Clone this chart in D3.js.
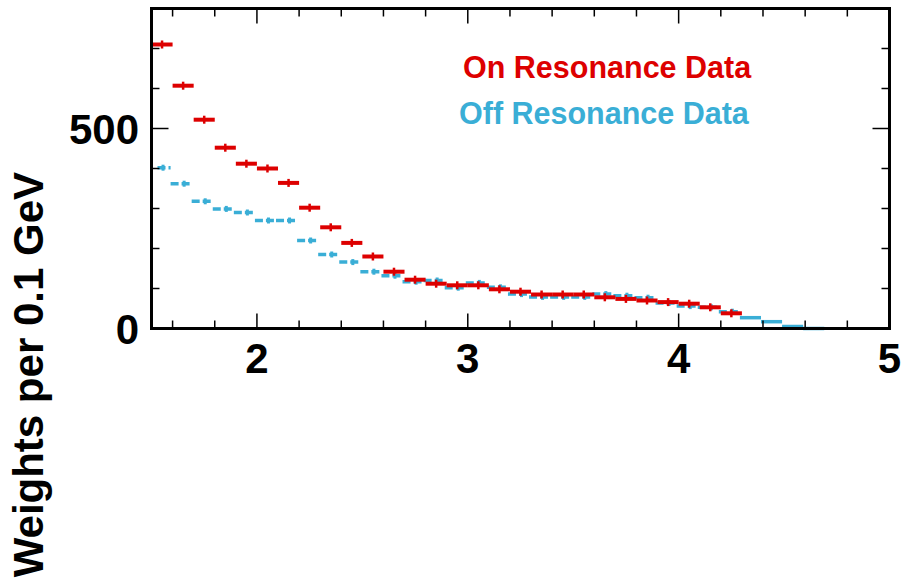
<!DOCTYPE html>
<html>
<head>
<meta charset="utf-8">
<script src="https://cdn.jsdelivr.net/npm/d3@7"></script>
<style>
  html, body { margin: 0; padding: 0; background: #fff; }
  svg { display: block; }
  text { font-family: "Liberation Sans", Arial, Helvetica, sans-serif; font-weight: bold; }
</style>
</head>
<body>
<svg id="chart" width="905" height="579"></svg>
<script>
// Histogram bin lower edges (GeV), 0.1 GeV wide
const binWidth = 0.1;
const onBinEdges = d3.range(28).map(i => +(1.5 + i * binWidth).toFixed(2));
const offBinEdges = d3.range(32).map(i => +(1.5 + i * binWidth).toFixed(2));

// Weighted counts per bin
const onResonance = [710, 607, 522, 452, 412, 400, 364, 302, 253, 214, 180, 142,
  122, 112, 108, 108, 98, 92, 85, 85, 85, 78, 74, 70, 66, 62, 53, 38];
const offResonance = [402, 362, 318, 299, 290, 270, 270, 220, 185, 166, 142, 132,
  117, 120, 102, 114, 103, 86, 79, 79, 79, 86, 82, 77, 64, 56, 53, 42, 27, 17, 5, 0];

const xTickMajor = [2, 3, 4, 5];
const yTickMajor = [0, 500];
const legendLabels = ["On Resonance Data", "Off Resonance Data"];
const yTitle = "Weights per 0.1 GeV";

const RED = "#dd0000";
const BLUE = "#3aaed6";

const svg = d3.select("#chart");
const pLeft = 151.5, pRight = 889.5, pTop = 8.5, pBottom = 328.5;

const x = d3.scaleLinear().domain([1.5, 5]).range([pLeft, pRight]);
const y = d3.scaleLinear().domain([0, 800]).range([pBottom, pTop]);

const onData = onBinEdges.map((e, i) => ({ x0: e, x1: e + binWidth, v: onResonance[i] }));
const offData = offBinEdges.map((e, i) => ({ x0: e, x1: e + binWidth, v: offResonance[i] }));
const onMax = d3.max(onBinEdges) + binWidth;

const plot = svg.append("g");

// Off-resonance points: dashed horizontal bars with a small error tick
const off = plot.append("g");
off.selectAll("line.bar").data(offData).join("line")
  .attr("class", "bar")
  .attr("x1", d => Math.max(x(d.x0) - 2, pLeft + 6))
  .attr("x2", d => x(d.x1) - 2)
  .attr("y1", d => y(d.v))
  .attr("y2", d => y(d.v))
  .attr("stroke", BLUE)
  .attr("stroke-width", 3.5)
  .attr("stroke-dasharray", d => d.x0 >= onMax - 1e-9 ? null : "8,3");
off.selectAll("line.err").data(offData.filter(d => d.x0 < onMax - 1e-9)).join("line")
  .attr("class", "err")
  .attr("x1", d => x(d.x0 + binWidth / 2) + 1)
  .attr("x2", d => x(d.x0 + binWidth / 2) + 1)
  .attr("y1", d => y(d.v) - 3)
  .attr("y2", d => y(d.v) + 3)
  .attr("stroke", BLUE)
  .attr("stroke-width", 3);

// On-resonance points: solid bars spanning the bin with a vertical error bar
const on = plot.append("g");
on.selectAll("line.bar").data(onData).join("line")
  .attr("class", "bar")
  .attr("x1", d => x(d.x0))
  .attr("x2", d => x(d.x1))
  .attr("y1", d => y(d.v))
  .attr("y2", d => y(d.v))
  .attr("stroke", RED)
  .attr("stroke-width", 4);
on.selectAll("line.err").data(onData).join("line")
  .attr("class", "err")
  .attr("x1", d => x(d.x0 + binWidth / 2))
  .attr("x2", d => x(d.x0 + binWidth / 2))
  .attr("y1", d => y(d.v) - 4)
  .attr("y2", d => y(d.v) + 4)
  .attr("stroke", RED)
  .attr("stroke-width", 2.5);

// Frame
svg.append("rect")
  .attr("x", pLeft).attr("y", pTop)
  .attr("width", pRight - pLeft).attr("height", pBottom - pTop)
  .attr("fill", "none").attr("stroke", "#000").attr("stroke-width", 3);

// Ticks on all four sides (major + minor)
const xMinor = d3.range(1.6, 5.0001, 0.2).map(v => +v.toFixed(2)).filter(v => !xTickMajor.includes(v));
const yMinor = d3.range(100, 800, 100).filter(v => !yTickMajor.includes(v));
const ticks = svg.append("g").attr("stroke", "#000").attr("stroke-width", 1.5);
function xTicks(vals, len) {
  vals.forEach(v => {
    ticks.append("line").attr("x1", x(v)).attr("x2", x(v)).attr("y1", pBottom).attr("y2", pBottom - len);
    ticks.append("line").attr("x1", x(v)).attr("x2", x(v)).attr("y1", pTop).attr("y2", pTop + len);
  });
}
function yTicks(vals, len) {
  vals.forEach(v => {
    ticks.append("line").attr("y1", y(v)).attr("y2", y(v)).attr("x1", pLeft).attr("x2", pLeft + len);
    ticks.append("line").attr("y1", y(v)).attr("y2", y(v)).attr("x1", pRight).attr("x2", pRight - len);
  });
}
xTicks(xTickMajor, 15);
xTicks(xMinor, 8);
yTicks(yTickMajor, 17);
yTicks(yMinor, 8);

// Tick labels
svg.append("g").selectAll("text").data(xTickMajor).join("text")
  .attr("x", d => x(d))
  .attr("y", 373)
  .attr("text-anchor", "middle")
  .attr("font-size", 42)
  .text(d => d);
svg.append("g").selectAll("text").data(yTickMajor).join("text")
  .attr("x", 139)
  .attr("y", d => y(d) + 15)
  .attr("text-anchor", "end")
  .attr("font-size", 42)
  .text(d => d);

// Y axis title
svg.append("text")
  .attr("transform", "translate(43,172) rotate(-90)")
  .attr("text-anchor", "end")
  .attr("font-size", 42)
  .text(yTitle);

// Legend
svg.append("g").selectAll("text").data(legendLabels).join("text")
  .attr("x", (d, i) => i === 0 ? 463 : 459)
  .attr("y", (d, i) => i === 0 ? 78 : 124)
  .attr("font-size", 30.5)
  .attr("fill", (d, i) => i === 0 ? RED : BLUE)
  .text(d => d);
</script>
</body>
</html>
